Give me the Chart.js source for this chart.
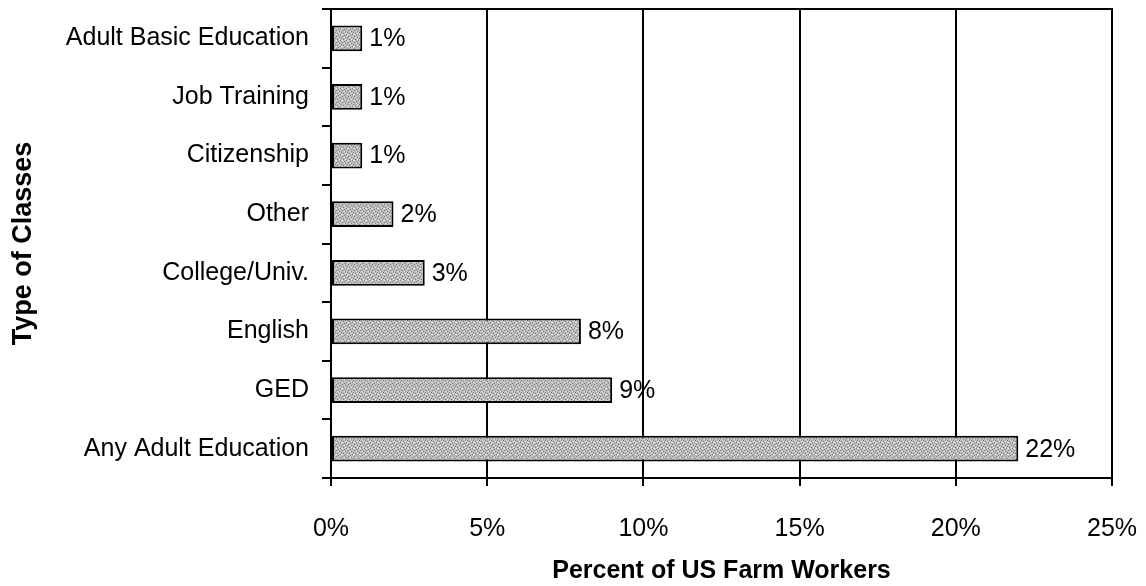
<!DOCTYPE html>
<html>
<head>
<meta charset="utf-8">
<script src="https://cdn.jsdelivr.net/npm/chart.js@4/dist/chart.umd.min.js"></script>
<style>
  html, body { margin: 0; padding: 0; background: #fff; }
  #wrap { width: 1146px; height: 586px; }
</style>
</head>
<body>
<div id="wrap"><canvas id="classChart" width="1146" height="586"></canvas></div>
<script>
// data
const classTypes = ["Adult Basic Education", "Job Training", "Citizenship", "Other",
                    "College/Univ.", "English", "GED", "Any Adult Education"];
const percentWorkers = [1, 1, 1, 2, 3, 8, 9, 22];
const xTicks = [0, 5, 10, 15, 20, 25];

const FONT = "Arial, 'Liberation Sans', sans-serif";

// speckled gray fill like the scanned original
function makeSpeckle() {
    const c = document.createElement("canvas");
    c.width = 6; c.height = 6;
    const g = c.getContext("2d");
    g.fillStyle = "#bdbdbd";
    g.fillRect(0, 0, 6, 6);
    g.fillStyle = "#7c7c7c";
    [[0,0],[3,1],[1,3],[4,4],[2,5],[5,2]].forEach(p => g.fillRect(p[0], p[1], 1, 1));
    g.fillStyle = "#e2e2e2";
    [[2,1],[5,4],[0,4],[3,3]].forEach(p => g.fillRect(p[0], p[1], 1, 1));
    return g.createPattern(c, "repeat");
}

// value labels at bar ends
const barLabels = {
    id: "barLabels",
    afterDatasetsDraw(chart) {
        const ctx = chart.ctx;
        const meta = chart.getDatasetMeta(0);
        ctx.save();
        ctx.font = "25px " + FONT;
        ctx.fillStyle = "#000";
        ctx.textBaseline = "middle";
        meta.data.forEach((bar, i) => {
            ctx.fillText(percentWorkers[i] + "%", bar.x + 7, bar.y + 1);
        });
        ctx.restore();
    }
};

// top border of the plot frame
const frameTop = {
    id: "frameTop",
    afterDraw(chart) {
        const a = chart.chartArea;
        const ctx = chart.ctx;
        ctx.save();
        ctx.strokeStyle = "#000";
        ctx.lineWidth = 2;
        ctx.beginPath();
        ctx.moveTo(a.left, a.top);
        ctx.lineTo(a.right + 1, a.top);
        ctx.stroke();
        ctx.restore();
    }
};

const ctx = document.getElementById("classChart").getContext("2d");
new Chart(ctx, {
    type: "bar",
    data: {
        labels: classTypes,
        datasets: [{
            data: percentWorkers,
            backgroundColor: makeSpeckle(),
            borderColor: "#000",
            borderWidth: 2,
            borderSkipped: false,
            barPercentage: 0.44,
            categoryPercentage: 1
        }]
    },
    options: {
        indexAxis: "y",
        responsive: false,
        animation: false,
        layout: { padding: { top: 9, right: 34, left: 0, bottom: 0 } },
        plugins: {
            legend: { display: false },
            tooltip: { enabled: false }
        },
        scales: {
            x: {
                min: 0,
                max: 25,
                afterFit: s => {
                    s.height = 108;
                    s.paddingLeft = 0;
                    s.paddingRight = 0;
                },
                afterBuildTicks: s => { s.ticks = xTicks.map(v => ({ value: v })); },
                ticks: {
                    callback: v => v + "%",
                    color: "#000",
                    font: { family: FONT, size: 25 },
                    padding: 28,
                    maxRotation: 0
                },
                grid: {
                    color: "#000",
                    lineWidth: 2,
                    tickLength: 8
                },
                border: { color: "#000", width: 2 },
                title: {
                    display: true,
                    text: "Percent of US Farm Workers",
                    color: "#000",
                    font: { family: FONT, size: 25, weight: "bold" },
                    padding: { top: 0, bottom: 0 }
                }
            },
            y: {
                afterFit: s => {
                    s.width = 331;
                    s.paddingTop = 0;
                    s.paddingBottom = 0;
                },
                ticks: {
                    color: "#000",
                    font: { family: FONT, size: 25 },
                    padding: 13
                },
                grid: {
                    color: "#000",
                    lineWidth: 2,
                    offset: true,
                    drawOnChartArea: false,
                    tickLength: 9
                },
                border: { color: "#000", width: 2 },
                title: {
                    display: true,
                    text: "Type of Classes",
                    color: "#000",
                    font: { family: FONT, size: 27, weight: "bold" },
                    padding: { top: 7, bottom: 0 }
                }
            }
        }
    },
    plugins: [barLabels, frameTop]
});
</script>
</body>
</html>
